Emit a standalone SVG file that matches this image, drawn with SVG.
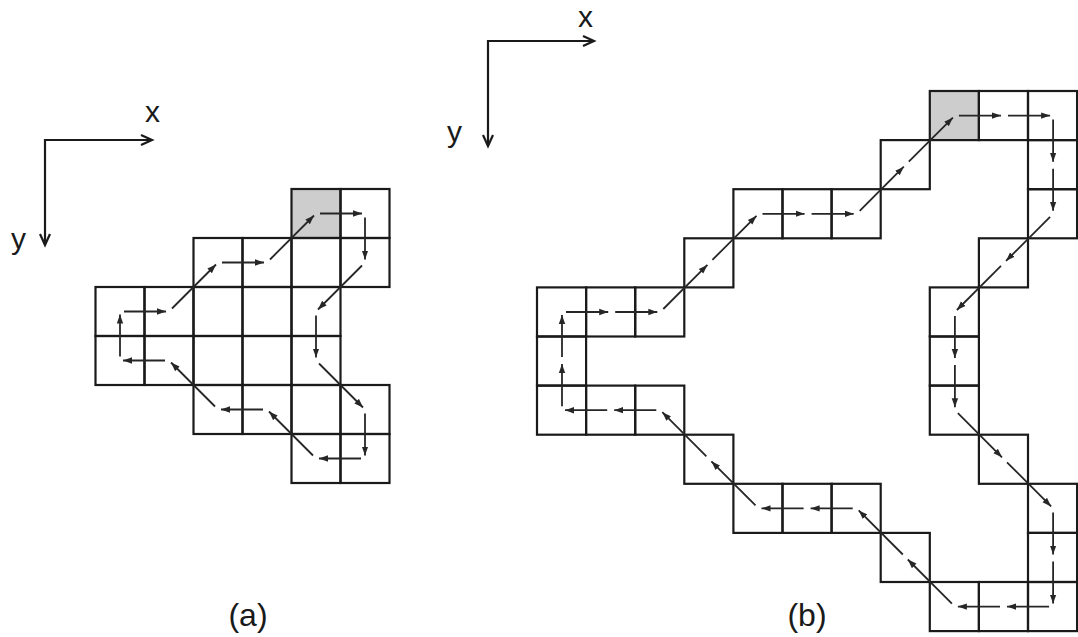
<svg xmlns="http://www.w3.org/2000/svg" width="1078" height="637" viewBox="0 0 1078 637">
<style>
.cell{fill:none;stroke:#1a1a1a;stroke-width:2.2}
.shade{fill:#cdcdcd;stroke:#1a1a1a;stroke-width:2.2}
.arr{stroke:#262626;stroke-width:1.8;fill:none;marker-end:url(#ah)}
.axis{stroke:#1a1a1a;stroke-width:2.2;fill:none;marker-end:url(#ax)}
.lbl{font-family:"Liberation Sans",Arial,sans-serif;fill:#1a1a1a}
</style>
<defs>
<marker id="ah" markerUnits="userSpaceOnUse" markerWidth="10" markerHeight="8" refX="9" refY="4" orient="auto">
<path d="M0,0.8 L9,4 L0,7.2 Z" fill="#262626"/>
</marker>
<marker id="ax" markerUnits="userSpaceOnUse" markerWidth="14" markerHeight="12" refX="12" refY="6" orient="auto" overflow="visible">
<path d="M1,1 L12,6 L1,11" fill="none" stroke="#1a1a1a" stroke-width="2.2"/>
</marker>
</defs>
<rect width="1078" height="637" fill="#ffffff"/>

<!-- Figure (a) -->
<g id="axes-a">
<line class="axis" x1="44" y1="140" x2="152" y2="140"/>
<line class="axis" x1="45" y1="139" x2="45" y2="245"/>
<text class="lbl" x="145" y="122" font-size="30">x</text>
<text class="lbl" x="11" y="249" font-size="30">y</text>
</g>
<g id="cells-a">
<g id="a-c4r0"><rect class="shade" x="291.5" y="189" width="49" height="49"/></g>
<g id="a-c5r0"><rect class="cell" x="340.5" y="189" width="49" height="49"/></g>
<g id="a-c2r1"><rect class="cell" x="193.5" y="238" width="49" height="49"/></g>
<g id="a-c3r1"><rect class="cell" x="242.5" y="238" width="49" height="49"/></g>
<g id="a-c4r1"><rect class="cell" x="291.5" y="238" width="49" height="49"/></g>
<g id="a-c5r1"><rect class="cell" x="340.5" y="238" width="49" height="49"/></g>
<g id="a-c0r2"><rect class="cell" x="95.5" y="287" width="49" height="49"/></g>
<g id="a-c1r2"><rect class="cell" x="144.5" y="287" width="49" height="49"/></g>
<g id="a-c2r2"><rect class="cell" x="193.5" y="287" width="49" height="49"/></g>
<g id="a-c3r2"><rect class="cell" x="242.5" y="287" width="49" height="49"/></g>
<g id="a-c4r2"><rect class="cell" x="291.5" y="287" width="49" height="49"/></g>
<g id="a-c0r3"><rect class="cell" x="95.5" y="336" width="49" height="49"/></g>
<g id="a-c1r3"><rect class="cell" x="144.5" y="336" width="49" height="49"/></g>
<g id="a-c2r3"><rect class="cell" x="193.5" y="336" width="49" height="49"/></g>
<g id="a-c3r3"><rect class="cell" x="242.5" y="336" width="49" height="49"/></g>
<g id="a-c4r3"><rect class="cell" x="291.5" y="336" width="49" height="49"/></g>
<g id="a-c2r4"><rect class="cell" x="193.5" y="385" width="49" height="49"/></g>
<g id="a-c3r4"><rect class="cell" x="242.5" y="385" width="49" height="49"/></g>
<g id="a-c4r4"><rect class="cell" x="291.5" y="385" width="49" height="49"/></g>
<g id="a-c5r4"><rect class="cell" x="340.5" y="385" width="49" height="49"/></g>
<g id="a-c4r5"><rect class="cell" x="291.5" y="434" width="49" height="49"/></g>
<g id="a-c5r5"><rect class="cell" x="340.5" y="434" width="49" height="49"/></g>
</g>
<g id="connectors-a">
<line class="arr" x1="320" y1="213.5" x2="362" y2="213.5"/>
<line class="arr" x1="365" y1="217.5" x2="365" y2="259.5"/>
<line class="arr" x1="362" y1="265.5" x2="318" y2="309.5"/>
<line class="arr" x1="316" y1="315.5" x2="316" y2="357.5"/>
<line class="arr" x1="319" y1="363.5" x2="363" y2="407.5"/>
<line class="arr" x1="365" y1="413.5" x2="365" y2="455.5"/>
<line class="arr" x1="361" y1="458.5" x2="319" y2="458.5"/>
<line class="arr" x1="313" y1="455.5" x2="269" y2="411.5"/>
<line class="arr" x1="263" y1="409.5" x2="221" y2="409.5"/>
<line class="arr" x1="215" y1="406.5" x2="171" y2="362.5"/>
<line class="arr" x1="165" y1="360.5" x2="123" y2="360.5"/>
<line class="arr" x1="120" y1="356.5" x2="120" y2="314.5"/>
<line class="arr" x1="124" y1="311.5" x2="166" y2="311.5"/>
<line class="arr" x1="172" y1="308.5" x2="216" y2="264.5"/>
<line class="arr" x1="222" y1="262.5" x2="264" y2="262.5"/>
<line class="arr" x1="270" y1="259.5" x2="314" y2="215.5"/>
</g>
<text class="lbl" x="248" y="626" font-size="32" text-anchor="middle">(a)</text>

<!-- Figure (b) -->
<g id="axes-b">
<line class="axis" x1="487" y1="41" x2="594" y2="41"/>
<line class="axis" x1="488" y1="40" x2="488" y2="146"/>
<text class="lbl" x="578" y="27" font-size="30">x</text>
<text class="lbl" x="447" y="142" font-size="30">y</text>
</g>
<g id="cells-b">
<g id="b-c8r0"><rect class="shade" x="929.8" y="91" width="49.1" height="49.1"/></g>
<g id="b-c9r0"><rect class="cell" x="978.9" y="91" width="49.1" height="49.1"/></g>
<g id="b-c10r0"><rect class="cell" x="1028" y="91" width="49.1" height="49.1"/></g>
<g id="b-c7r1"><rect class="cell" x="880.7" y="140.1" width="49.1" height="49.1"/></g>
<g id="b-c10r1"><rect class="cell" x="1028" y="140.1" width="49.1" height="49.1"/></g>
<g id="b-c4r2"><rect class="cell" x="733.4" y="189.2" width="49.1" height="49.1"/></g>
<g id="b-c5r2"><rect class="cell" x="782.5" y="189.2" width="49.1" height="49.1"/></g>
<g id="b-c6r2"><rect class="cell" x="831.6" y="189.2" width="49.1" height="49.1"/></g>
<g id="b-c10r2"><rect class="cell" x="1028" y="189.2" width="49.1" height="49.1"/></g>
<g id="b-c3r3"><rect class="cell" x="684.3" y="238.3" width="49.1" height="49.1"/></g>
<g id="b-c9r3"><rect class="cell" x="978.9" y="238.3" width="49.1" height="49.1"/></g>
<g id="b-c0r4"><rect class="cell" x="537" y="287.4" width="49.1" height="49.1"/></g>
<g id="b-c1r4"><rect class="cell" x="586.1" y="287.4" width="49.1" height="49.1"/></g>
<g id="b-c2r4"><rect class="cell" x="635.2" y="287.4" width="49.1" height="49.1"/></g>
<g id="b-c8r4"><rect class="cell" x="929.8" y="287.4" width="49.1" height="49.1"/></g>
<g id="b-c0r5"><rect class="cell" x="537" y="336.5" width="49.1" height="49.1"/></g>
<g id="b-c8r5"><rect class="cell" x="929.8" y="336.5" width="49.1" height="49.1"/></g>
<g id="b-c0r6"><rect class="cell" x="537" y="385.6" width="49.1" height="49.1"/></g>
<g id="b-c1r6"><rect class="cell" x="586.1" y="385.6" width="49.1" height="49.1"/></g>
<g id="b-c2r6"><rect class="cell" x="635.2" y="385.6" width="49.1" height="49.1"/></g>
<g id="b-c8r6"><rect class="cell" x="929.8" y="385.6" width="49.1" height="49.1"/></g>
<g id="b-c3r7"><rect class="cell" x="684.3" y="434.7" width="49.1" height="49.1"/></g>
<g id="b-c9r7"><rect class="cell" x="978.9" y="434.7" width="49.1" height="49.1"/></g>
<g id="b-c4r8"><rect class="cell" x="733.4" y="483.8" width="49.1" height="49.1"/></g>
<g id="b-c5r8"><rect class="cell" x="782.5" y="483.8" width="49.1" height="49.1"/></g>
<g id="b-c6r8"><rect class="cell" x="831.6" y="483.8" width="49.1" height="49.1"/></g>
<g id="b-c10r8"><rect class="cell" x="1028" y="483.8" width="49.1" height="49.1"/></g>
<g id="b-c7r9"><rect class="cell" x="880.7" y="532.9" width="49.1" height="49.1"/></g>
<g id="b-c10r9"><rect class="cell" x="1028" y="532.9" width="49.1" height="49.1"/></g>
<g id="b-c8r10"><rect class="cell" x="929.8" y="582" width="49.1" height="49.1"/></g>
<g id="b-c9r10"><rect class="cell" x="978.9" y="582" width="49.1" height="49.1"/></g>
<g id="b-c10r10"><rect class="cell" x="1028" y="582" width="49.1" height="49.1"/></g>
</g>
<g id="connectors-b">
<line class="arr" x1="958.9" y1="115.6" x2="1001" y2="115.6"/>
<line class="arr" x1="1008" y1="115.6" x2="1050.1" y2="115.6"/>
<line class="arr" x1="1053.1" y1="119.6" x2="1053.1" y2="161.7"/>
<line class="arr" x1="1053.1" y1="168.7" x2="1053.1" y2="210.8"/>
<line class="arr" x1="1050.1" y1="216.8" x2="1006" y2="260.9"/>
<line class="arr" x1="1001" y1="265.9" x2="956.9" y2="310"/>
<line class="arr" x1="954.9" y1="316" x2="954.9" y2="358.1"/>
<line class="arr" x1="954.9" y1="365.1" x2="954.9" y2="407.2"/>
<line class="arr" x1="957.9" y1="413.2" x2="1002" y2="457.3"/>
<line class="arr" x1="1007" y1="462.3" x2="1051.1" y2="506.4"/>
<line class="arr" x1="1053.1" y1="512.4" x2="1053.1" y2="554.5"/>
<line class="arr" x1="1053.1" y1="561.5" x2="1053.1" y2="603.6"/>
<line class="arr" x1="1049.1" y1="606.6" x2="1007" y2="606.6"/>
<line class="arr" x1="1000" y1="606.6" x2="957.9" y2="606.6"/>
<line class="arr" x1="951.9" y1="603.6" x2="907.8" y2="559.5"/>
<line class="arr" x1="902.8" y1="554.5" x2="858.7" y2="510.4"/>
<line class="arr" x1="852.7" y1="508.4" x2="810.6" y2="508.4"/>
<line class="arr" x1="803.6" y1="508.4" x2="761.5" y2="508.4"/>
<line class="arr" x1="755.5" y1="505.4" x2="711.4" y2="461.3"/>
<line class="arr" x1="706.4" y1="456.3" x2="662.3" y2="412.2"/>
<line class="arr" x1="656.3" y1="410.2" x2="614.2" y2="410.2"/>
<line class="arr" x1="607.2" y1="410.2" x2="565" y2="410.2"/>
<line class="arr" x1="562" y1="406.2" x2="562" y2="364.1"/>
<line class="arr" x1="562" y1="357.1" x2="562" y2="315"/>
<line class="arr" x1="566" y1="312" x2="608.2" y2="312"/>
<line class="arr" x1="615.2" y1="312" x2="657.3" y2="312"/>
<line class="arr" x1="663.3" y1="309" x2="707.4" y2="264.9"/>
<line class="arr" x1="712.4" y1="259.9" x2="756.5" y2="215.8"/>
<line class="arr" x1="762.5" y1="213.8" x2="804.6" y2="213.8"/>
<line class="arr" x1="811.6" y1="213.8" x2="853.7" y2="213.8"/>
<line class="arr" x1="859.7" y1="210.8" x2="903.8" y2="166.7"/>
<line class="arr" x1="908.8" y1="161.7" x2="952.9" y2="117.6"/>
</g>
<text class="lbl" x="807" y="626" font-size="32" text-anchor="middle">(b)</text>
</svg>
